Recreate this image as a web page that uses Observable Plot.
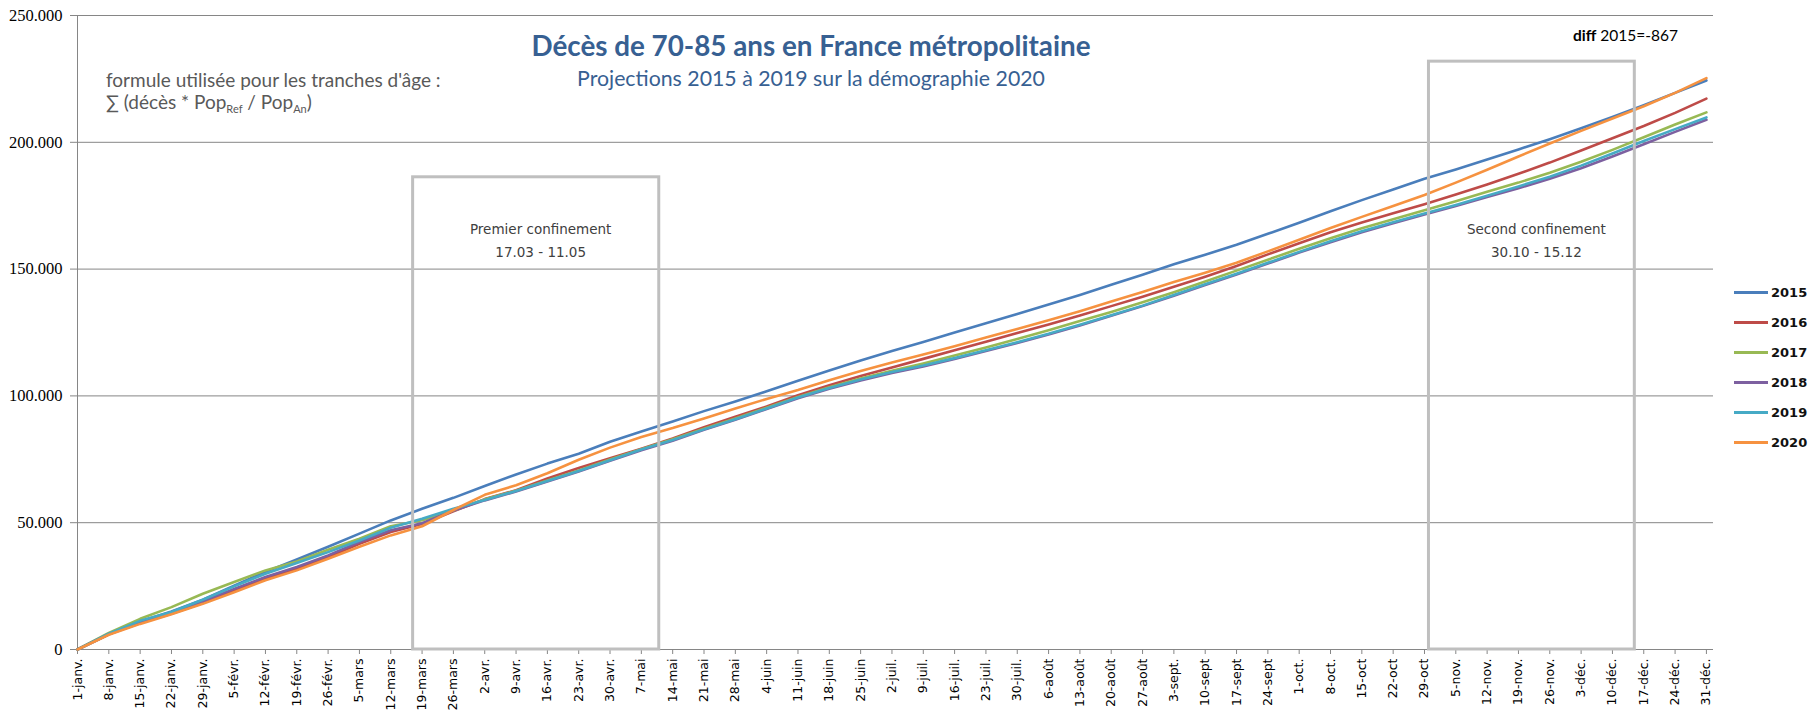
<!DOCTYPE html>
<html><head><meta charset="utf-8">
<script src="https://cdn.jsdelivr.net/npm/d3@7"></script>
<script src="https://cdn.jsdelivr.net/npm/@observablehq/plot@0.6"></script>
<style>
body{margin:0;background:#fff;}
#wrap{position:relative;width:1818px;height:722px;overflow:hidden;background:#fff;}
.ov{position:absolute;white-space:nowrap;line-height:1;}
#legend{position:absolute;left:1734px;top:277px;font-family:"DejaVu Sans",sans-serif;font-size:13px;font-weight:bold;color:#111;}
#legend .it{display:flex;align-items:center;height:30px;}
#legend .sw{width:34px;height:3px;margin-right:3px;}
</style></head><body><div id="wrap"></div>
<script>
// ---- data ----
const years = ["2015","2016","2017","2018","2019","2020"];
const colors = ["#4a7ebb","#be4b48","#98b954","#7d60a0","#46aac5","#f69240"];
// day offset from 1 January (weekly readings)
const dayOffsets = [0,7,14,21,28,35,42,49,56,63,70,77,84,91,98,105,112,119,126,133,140,147,154,161,168,175,182,189,196,203,210,217,224,231,238,245,252,259,266,273,280,287,294,301,308,315,322,329,336,343,350,357,364];
// cumulative deaths (thousands)
const v2015 = [0,6.0,11.0,15.0,19.6,25.2,30.6,35.5,40.5,45.7,50.9,55.5,59.8,64.5,69.0,73.3,77.2,81.9,86.0,89.9,94.0,97.8,101.8,106.0,110.0,114.0,117.7,121.3,125.0,128.6,132.3,136.0,139.8,143.8,147.8,151.9,155.7,159.6,163.9,168.3,172.8,177.2,181.4,185.6,189.3,193.2,197.2,201.2,205.5,210.0,214.6,219.5,224.4];
const v2016 = [0,6.0,10.4,14.1,18.3,23.3,28.0,31.8,36.4,41.7,46.3,49.5,54.5,59.3,62.8,67.4,71.6,75.4,79.2,83.2,87.6,91.8,95.8,100.3,104.2,107.8,111.2,114.6,118.0,121.4,124.8,128.2,131.7,135.4,139.1,143.0,147.0,151.2,155.8,160.2,164.5,168.4,172.0,175.6,179.4,183.4,187.6,192.0,196.8,201.6,206.4,211.6,217.2];
const v2017 = [0,6.5,12.1,16.7,22.0,26.6,31.2,34.7,39.3,43.7,48.6,51.0,54.8,59.2,62.6,66.6,70.6,74.9,79.0,82.9,87.1,91.1,95.3,99.6,103.4,106.9,109.9,112.8,115.9,119.1,122.4,125.9,129.5,133.1,136.9,140.9,145.1,149.4,153.7,158.0,162.2,166.1,169.7,173.2,176.8,180.5,184.1,188.0,192.3,197.0,202.0,207.0,211.8];
const v2018 = [0,6.1,10.4,14.4,18.9,23.9,28.6,32.5,37.1,42.4,47.0,49.8,54.8,58.8,62.3,66.2,70.2,74.4,78.6,82.3,86.6,90.6,94.8,99.1,102.8,106.1,109.0,111.6,114.6,117.7,120.9,124.2,127.8,131.6,135.4,139.5,143.7,147.9,152.2,156.5,160.6,164.5,168.1,171.5,174.9,178.4,181.9,185.6,189.8,194.4,199.2,204.1,208.9];
const v2019 = [0,6.2,11.3,14.8,19.6,24.9,29.9,34.1,38.4,43.0,48.0,51.6,55.5,59.0,62.5,66.4,70.4,74.6,78.9,82.6,86.8,90.8,95.0,99.4,103.1,106.5,109.4,112.0,114.9,118.0,121.2,124.5,128.1,131.8,135.6,139.8,144.0,148.2,152.5,156.8,161.0,164.9,168.5,171.9,175.3,178.9,182.6,186.4,190.8,195.6,200.5,205.2,209.8];
const v2020 = [0,5.8,10.1,13.9,18.0,22.6,27.3,31.2,35.8,40.5,45.0,48.6,55.0,61.0,64.8,69.5,74.8,79.6,83.8,87.3,91.1,95.0,98.8,102.3,106.2,109.8,113.2,116.3,119.6,123.0,126.4,129.8,133.4,137.2,141.0,144.9,148.6,152.5,157.0,161.6,166.2,170.6,174.9,179.2,184.1,189.2,194.4,199.5,204.5,209.4,214.2,219.5,225.3];
const tickLabels = ["1-janv.","8-janv.","15-janv.","22-janv.","29-janv.","5-févr.","12-févr.","19-févr.","26-févr.","5-mars","12-mars","19-mars","26-mars","2-avr.","9-avr.","16-avr.","23-avr.","30-avr.","7-mai","14-mai","21-mai","28-mai","4-juin","11-juin","18-juin","25-juin","2-juil.","9-juil.","16-juil.","23-juil.","30-juil.","6-août","13-août","20-août","27-août","3-sept.","10-sept","17-sept","24-sept","1-oct.","8-oct.","15-oct","22-oct","29-oct","5-nov.","12-nov.","19-nov.","26-nov.","3-déc.","10-déc.","17-déc.","24-déc.","31-déc."];
const yTicks = [0,50000,100000,150000,200000,250000];
// lockdowns: start / end day offsets, box top value, labels
const confStart = [75, 302];
const confEnd = [130, 348];
const confTop = [186200, 231800];
const confName = ["Premier confinement","Second confinement"];
const confDates = ["17.03 - 11.05","30.10 - 15.12"];
const confLabelY = [165500, 156500];

// ---- build ----
const toDate = d => new Date(Date.UTC(2015,0,1+d));
const series = [v2015,v2016,v2017,v2018,v2019,v2020];
const rows = [];
series.forEach((vals,i)=>vals.forEach((v,j)=>rows.push({date:toDate(dayOffsets[j]), value:v*1000, year:years[i]})));
const tickDates = tickLabels.map((_,i)=>toDate(dayOffsets[i]));
const labelByTime = new Map(tickDates.map((d,i)=>[+d, tickLabels[i]]));
const fmtY = v => v===0 ? "0" : d3.format(",")(v).replace(/,/g,".");
const confIdx = confStart.map((_,i)=>i);
const confText = [];
confIdx.forEach(i=>{
  const mid = new Date((+toDate(confStart[i]) + +toDate(confEnd[i]))/2 + 86400000);
  confText.push({date:mid, value:confLabelY[0], text:confName[i]});
  confText.push({date:mid, value:confLabelY[1], text:confDates[i]});
});

const chart = Plot.plot({
  width:1818, height:722,
  marginLeft:77, marginRight:105, marginTop:15, marginBottom:73,
  x:{type:"utc", domain:[toDate(0), new Date(Date.UTC(2016,0,1,14))]},
  y:{domain:[0,250000]},
  color:{domain:years, range:colors},
  style:{background:"white", overflow:"visible"},
  marks:[
    Plot.gridY(yTicks,{stroke:"#868686", strokeOpacity:1}),
    Plot.ruleX([toDate(0)],{stroke:"#868686"}),
    Plot.ruleY([0],{stroke:"#868686"}),
    Plot.axisY(yTicks,{tickSize:7, tickPadding:8, tickFormat:fmtY, fontSize:16.5, fontFamily:"Liberation Serif", fill:"#000", stroke:"#868686", label:null}),
    Plot.axisX(tickDates,{tickSize:5, tickPadding:4, tickRotate:-90, tickFormat:d=>labelByTime.get(+d), fontSize:12.5, fontFamily:"DejaVu Sans", fill:"#000", stroke:"#868686", label:null}),
    Plot.line(rows,{x:"date", y:"value", z:"year", stroke:"year", strokeWidth:2.6}),
    Plot.rect(confIdx,{x1:i=>toDate(confStart[i]), x2:i=>toDate(confEnd[i]), y1:0, y2:i=>confTop[i], fill:"none", stroke:"#bfbfbf", strokeWidth:3}),
    Plot.text(confText,{x:"date", y:"value", text:"text", fontSize:13.5, fontFamily:"DejaVu Sans", fill:"#404040"})
  ]
});

const wrap = document.getElementById("wrap");
wrap.appendChild(chart);
function addText(html, css){const d=document.createElement("div");d.className="ov";d.innerHTML=html;Object.assign(d.style,css);wrap.appendChild(d);}
addText("Décès de 70-85 ans en France métropolitaine",{left:"811px",top:"46px",transform:"translate(-50%,-50%)",fontFamily:"Lato",fontWeight:"bold",fontSize:"27.8px",color:"#376092"});
addText("Projections 2015 à 2019 sur la démographie 2020",{left:"811px",top:"79px",transform:"translate(-50%,-50%)",fontFamily:"Lato",fontSize:"21.3px",color:"#376092"});
addText("formule utilisée pour les tranches d'âge :",{left:"106px",top:"79px",transform:"translateY(-50%)",fontFamily:"Lato",fontSize:"19px",color:"#595959"});
addText("∑ (décès * Pop<sub style='font-size:11px'>Ref</sub> / Pop<sub style='font-size:11px'>An</sub>)",{left:"106px",top:"103px",transform:"translateY(-50%)",fontFamily:"Lato",fontSize:"19px",color:"#595959"});
addText("<b>diff</b> 2015=-867",{left:"1573px",top:"36px",transform:"translateY(-50%)",fontFamily:"Lato",fontSize:"15.5px",color:"#000"});

const lg = document.createElement("div"); lg.id="legend";
years.forEach((y,i)=>{const it=document.createElement("div");it.className="it";it.innerHTML=`<span class="sw" style="background:${colors[i]}"></span><span>${y}</span>`;lg.appendChild(it);});
wrap.appendChild(lg);
</script></body></html>
